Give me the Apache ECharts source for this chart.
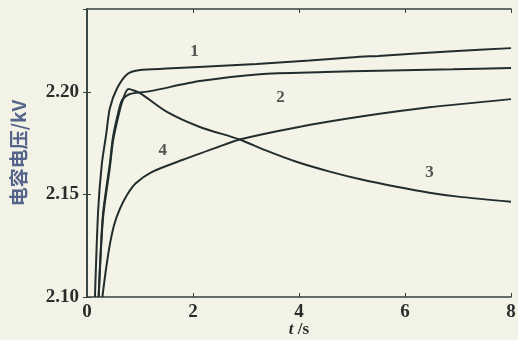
<!DOCTYPE html>
<html>
<head>
<meta charset="utf-8">
<script src="https://cdn.jsdelivr.net/npm/echarts@6/dist/echarts.min.js"></script>
<style>
  html, body { margin: 0; padding: 0; background: #f2f2e6; }
  #chart { width: 518px; height: 340px; }
</style>
</head>
<body>
<div id="chart"></div>
<script>
// 曲线1
const t1 = [0.15, 0.21, 0.28, 0.36, 0.43, 0.57, 0.77, 1.0, 1.5, 2.1, 3.2, 4.2, 5.1, 5.5, 6.9, 8]
const v1 = [2.100, 2.142, 2.165, 2.179, 2.192, 2.202, 2.209, 2.2108, 2.2115, 2.2123, 2.2138, 2.2155, 2.2172, 2.2177, 2.2200, 2.2215]
// 曲线2
const t2 = [0.22, 0.30, 0.43, 0.49, 0.58, 0.66, 0.8, 1.19, 2.13, 3.26, 4.5, 5.5, 6.9, 8]
const v2 = [2.100, 2.140, 2.165, 2.178, 2.189, 2.196, 2.199, 2.2005, 2.2054, 2.2088, 2.2098, 2.2105, 2.2112, 2.2118]
// 曲线3
const t3 = [0.22, 0.30, 0.43, 0.49, 0.58, 0.66, 0.78, 1.0, 1.5, 2.13, 2.88, 3.35, 3.95, 4.58, 5.2, 5.84, 6.46, 7.0, 8]
const v3 = [2.100, 2.138, 2.163, 2.176, 2.187, 2.195, 2.2015, 2.1995, 2.1905, 2.1830, 2.1769, 2.1718, 2.166, 2.1612, 2.1572, 2.1538, 2.1509, 2.149, 2.1465]
// 曲线4
const t4 = [0.29, 0.35, 0.42, 0.51, 0.62, 0.76, 0.92, 1.22, 1.81, 2.45, 2.88, 3.95, 5.2, 6.46, 8]
const v4 = [2.100, 2.112, 2.124, 2.135, 2.143, 2.150, 2.1555, 2.161, 2.167, 2.173, 2.1769, 2.1828, 2.1882, 2.1926, 2.1966]

// 曲线编号的位置
const tagNames = ['1', '2', '3', '4']
const tagT = [2.03, 3.65, 6.46, 1.43]
const tagV = [2.2202, 2.198, 2.1612, 2.172]

const xTicks = [0, 2, 4, 6, 8]
const yTicks = [2.10, 2.15, 2.20]

const lineColor = '#222e2d'
const axisColor = '#34423f'

function pairs(ts, vs) {
  return ts.map((t, i) => [t, vs[i]])
}

function curve(ts, vs) {
  return {
    type: 'line',
    data: pairs(ts, vs),
    smooth: 0.25,
    symbol: 'none',
    lineStyle: { color: lineColor, width: 2 },
    z: 3
  }
}

const chart = echarts.init(document.getElementById('chart'))

const labelFont = {
  color: '#2b2b2b',
  fontFamily: 'Liberation Serif, DejaVu Serif, serif',
  fontWeight: 'bold',
  fontSize: 19
}

let option = {
  backgroundColor: '#f2f2e6',
  animation: false,
  grid: {
    left: 87,
    right: 7,
    top: 9,
    bottom: 43,
    outerBoundsMode: 'none',
    containLabel: false,
    show: true,
    backgroundColor: '#f3f3e8',
    borderWidth: 0
  },
  xAxis: [
    {
      type: 'value',
      min: 0,
      max: 8,
      interval: 2,
      name: '{i|t}{n| /s}',
      nameLocation: 'middle',
      nameGap: 24,
      nameMoveOverlap: false,
      nameTextStyle: {
        rich: {
          i: { ...labelFont, fontStyle: 'italic', fontSize: 17 },
          n: { ...labelFont, fontSize: 17 }
        }
      },
      axisLine: { show: true, lineStyle: { color: axisColor, width: 1.6 } },
      axisTick: { show: true, inside: true, length: 4, lineStyle: { color: axisColor } },
      axisLabel: {
        ...labelFont,
        margin: 6,
        formatter: (v) => (xTicks.includes(v) ? String(v) : '')
      },
      splitLine: { show: false }
    },
    {
      type: 'value',
      position: 'top',
      min: 0,
      max: 8,
      interval: 2,
      axisLine: { show: true, lineStyle: { color: axisColor, width: 1.6 } },
      axisTick: { show: true, inside: true, length: 4, lineStyle: { color: axisColor } },
      axisLabel: { show: false },
      splitLine: { show: false }
    }
  ],
  yAxis: [
    {
      type: 'value',
      min: 2.10,
      max: 2.2406,
      interval: 0.05,
      name: '电容电压/kV',
      nameLocation: 'middle',
      nameGap: 59,
      nameMoveOverlap: false,
      nameTextStyle: {
        color: '#55648a',
        fontFamily: 'Noto Sans CJK SC',
        fontWeight: 'bold',
        fontSize: 19
      },
      axisLine: { show: true, lineStyle: { color: axisColor, width: 1.6 } },
      axisTick: { show: true, inside: true, length: 4, lineStyle: { color: axisColor } },
      axisLabel: {
        ...labelFont,
        margin: 8,
        showMaxLabel: false,
        formatter: (v) => {
          let hit = yTicks.find((y) => Math.abs(y - v) < 1e-6)
          return hit !== undefined ? hit.toFixed(2) : ''
        }
      },
      splitLine: { show: false }
    },
    {
      type: 'value',
      position: 'right',
      min: 2.10,
      max: 2.2406,
      interval: 0.05,
      axisLine: { show: true, lineStyle: { color: axisColor, width: 1.6 } },
      axisTick: { show: true, inside: true, length: 4, lineStyle: { color: axisColor } },
      axisLabel: { show: false },
      splitLine: { show: false }
    }
  ],
  series: [
    curve(t1, v1),
    curve(t2, v2),
    curve(t3, v3),
    curve(t4, v4),
    {
      type: 'scatter',
      symbolSize: 0,
      data: tagNames.map((n, i) => ({ value: [tagT[i], tagV[i]], name: n })),
      label: {
        show: true,
        position: 'inside',
        offset: [0, 1],
        formatter: (p) => p.name,
        ...labelFont,
        fontSize: 17
      },
      z: 4
    }
  ]
}

chart.setOption(option)
</script>
</body>
</html>
